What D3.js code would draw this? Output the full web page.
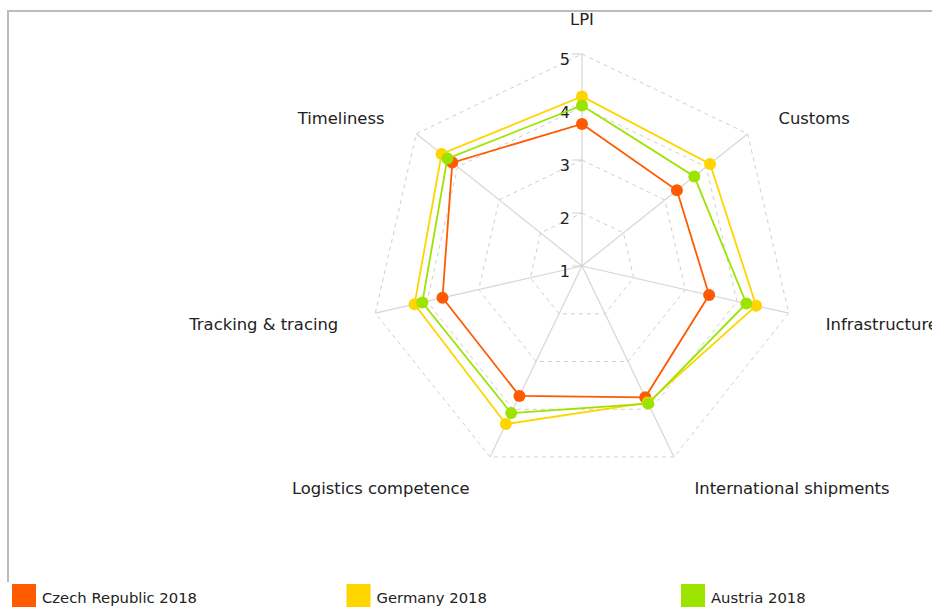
<!DOCTYPE html>
<html>
<head>
<meta charset="utf-8">
<script src="https://cdn.jsdelivr.net/npm/d3@7/dist/d3.min.js"></script>
<style>
  html, body { margin: 0; padding: 0; background: #fff; }
  svg { display: block; font-family: "DejaVu Sans", Verdana, sans-serif; }
</style>
</head>
<body>
<svg id="chart" width="932" height="607"></svg>
<script>
// Logistics Performance Index 2018 — score per dimension
const axes = ["LPI", "Customs", "Infrastructure", "International shipments",
              "Logistics competence", "Tracking & tracing", "Timeliness"];
const seriesNames = ["Czech Republic 2018", "Germany 2018", "Austria 2018"];
const czech   = [3.68, 3.29, 3.46, 3.75, 3.72, 3.70, 4.13];
const germany = [4.20, 4.09, 4.37, 3.86, 4.31, 4.24, 4.39];
const austria = [4.03, 3.71, 4.18, 3.88, 4.08, 4.09, 4.25];
const ticks = [1, 2, 3, 4, 5];
const colors = ["#ff5a00", "#ffd500", "#9de300"];

const series = [czech, germany, austria].map((values, i) => ({
  name: seriesNames[i], values, color: colors[i]
}));

const svg = d3.select("#chart");
const cx = 582, cy = 266;
const r = d3.scaleLinear().domain([1, 5]).range([0, 212]);
const angle = d3.scalePoint().domain(axes.map((d, i) => i)).range([0, 2 * Math.PI * (axes.length - 1) / axes.length]);

function pt(i, v) {
  const a = angle(i) - Math.PI / 2;
  return [cx + r(v) * Math.cos(a), cy + r(v) * Math.sin(a)];
}

// frame
svg.append("line").attr("x1", 8).attr("y1", 11).attr("x2", 932).attr("y2", 11)
  .attr("stroke", "#bcbcbc").attr("stroke-width", 2);
svg.append("line").attr("x1", 8).attr("y1", 10).attr("x2", 8).attr("y2", 582)
  .attr("stroke", "#bcbcbc").attr("stroke-width", 2);

const grid = svg.append("g");
// dashed rings
ticks.filter(t => t > 1).forEach(t => {
  grid.append("polygon")
    .attr("points", axes.map((d, i) => pt(i, t).join(",")).join(" "))
    .attr("fill", "none").attr("stroke", "#cfcfcf").attr("stroke-width", 1)
    .attr("stroke-dasharray", "4,4");
});
// spokes
axes.forEach((d, i) => {
  const [x, y] = pt(i, 5);
  grid.append("line").attr("x1", cx).attr("y1", cy).attr("x2", x).attr("y2", y)
    .attr("stroke", "#d6d6d6").attr("stroke-width", 1.2);
});

// value ticks along the first spoke
const tickG = svg.append("g");
ticks.forEach(t => {
  const y = cy - r(t);
  tickG.append("line").attr("x1", cx - 10).attr("x2", cx).attr("y1", y).attr("y2", y)
    .attr("stroke", "#cfcfcf").attr("stroke-width", 1);
  tickG.append("text").attr("x", cx - 12).attr("y", y + 5)
    .attr("text-anchor", "end").attr("dominant-baseline", "central")
    .attr("font-size", 16).attr("fill", "#222").text(t);
});

// axis labels
axes.forEach((d, i) => {
  const a = angle(i) - Math.PI / 2;
  const c = Math.cos(a), s = Math.sin(a);
  const lr = 250;
  let x = cx + lr * c;
  let y = cy + lr * s + 3;
  if (s < -0.3 && s > -0.9) { y += 5; x += c > 0 ? 1 : -2; }
  if (s > 0.5) { y -= 6; x += c > 0 ? 4 : -4; }
  svg.append("text").attr("x", x).attr("y", y)
    .attr("text-anchor", Math.abs(c) < 0.1 ? "middle" : (c > 0 ? "start" : "end"))
    .attr("dominant-baseline", "central")
    .attr("font-size", 16.4).attr("fill", "#222").text(d);
});

// series
const line = d3.line().curve(d3.curveLinearClosed);
series.forEach(sr => {
  const g = svg.append("g");
  g.append("path")
    .attr("d", line(sr.values.map((v, i) => pt(i, v))))
    .attr("fill", "none").attr("stroke", sr.color).attr("stroke-width", 1.8);
  g.selectAll("circle").data(sr.values).join("circle")
    .attr("cx", (v, i) => pt(i, v)[0])
    .attr("cy", (v, i) => pt(i, v)[1])
    .attr("r", 6).attr("fill", sr.color);
});

// legend
const legend = svg.append("g");
series.forEach((sr, i) => {
  const x = 12 + i * 334.5;
  legend.append("rect").attr("x", x).attr("y", 584).attr("width", 24).attr("height", 24)
    .attr("fill", sr.color);
  legend.append("text").attr("x", x + 30).attr("y", 597)
    .attr("dominant-baseline", "central").attr("font-size", 14.8).attr("fill", "#222")
    .text(sr.name);
});
</script>
</body>
</html>
